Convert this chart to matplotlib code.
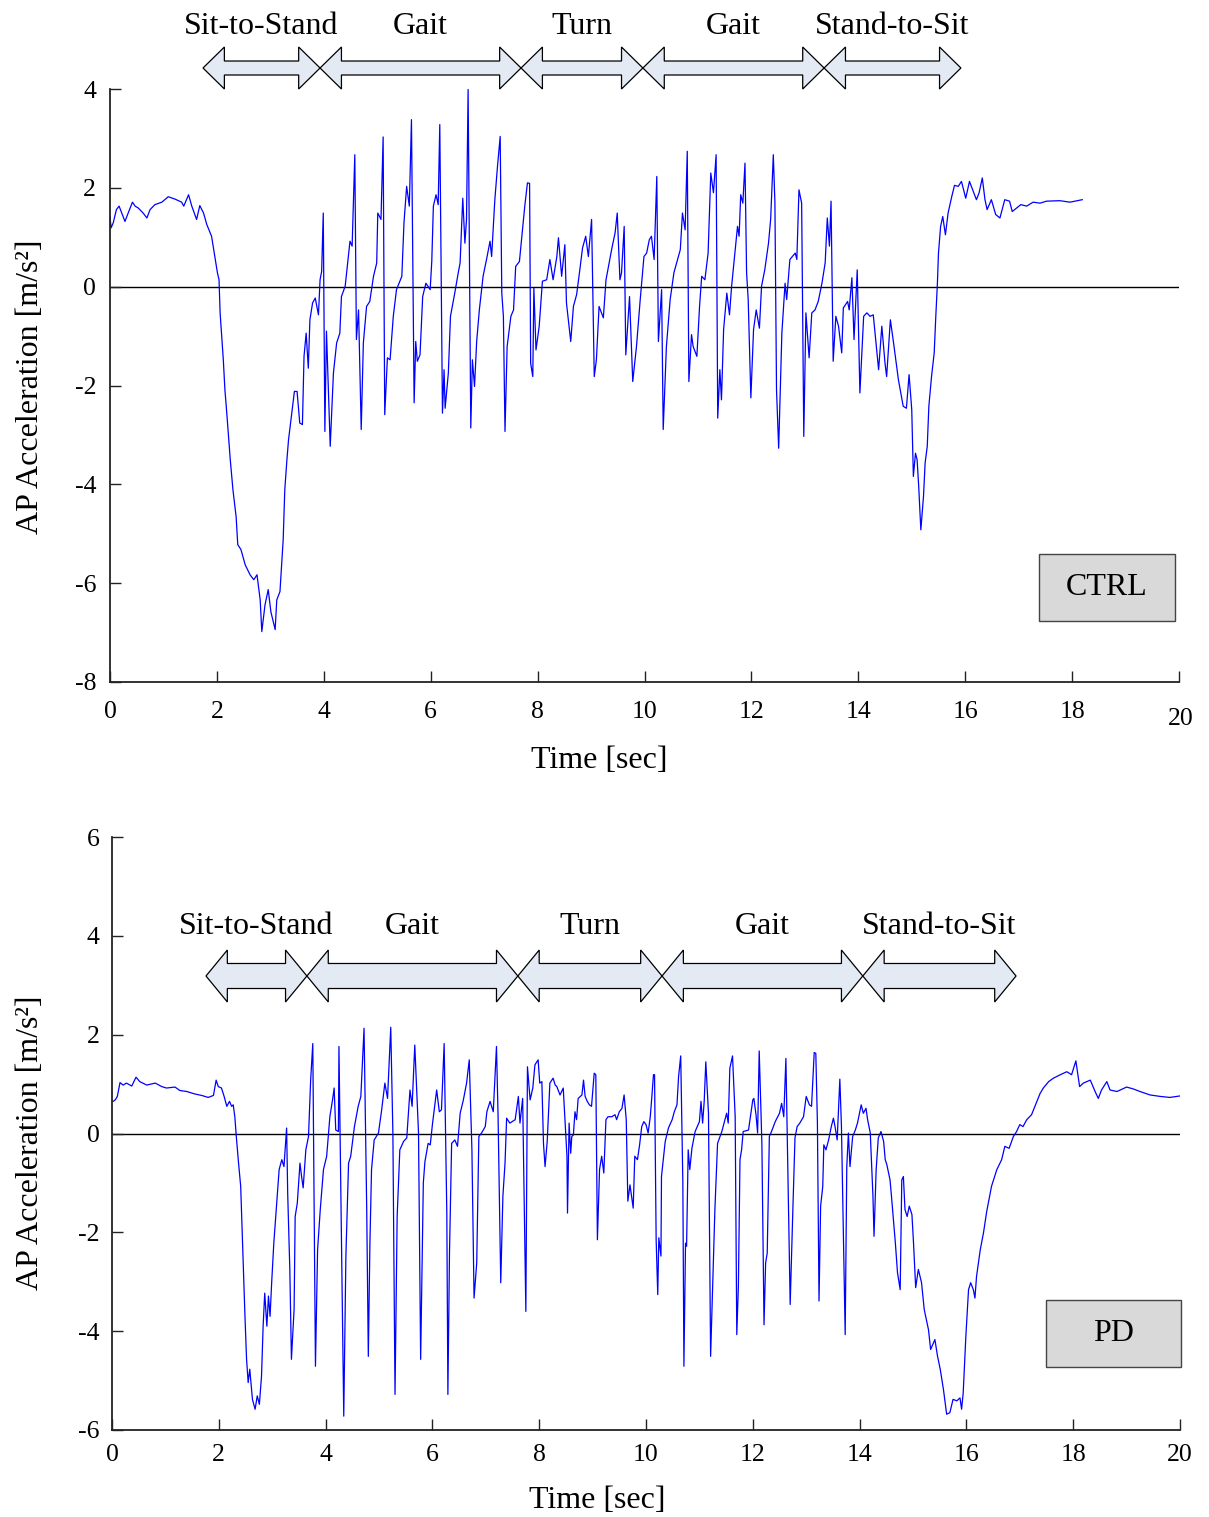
import matplotlib
matplotlib.use("Agg")
import matplotlib.pyplot as plt
from matplotlib.patches import Polygon, Rectangle
from matplotlib.transforms import blended_transform_factory

plt.rcParams['font.family'] = ['Liberation Serif', 'DejaVu Serif']

# ---------------------------------------------------------------------------
# AP acceleration traces (time in s, acceleration in m/s^2)
# ---------------------------------------------------------------------------
ctrl_time = [
    0.00, 0.02, 0.06, 0.12, 0.17, 0.22, 0.28, 0.34, 0.42, 0.47,
    0.53, 0.62, 0.69, 0.75, 0.84, 0.97, 1.09, 1.22, 1.34, 1.38,
    1.47, 1.53, 1.62, 1.68, 1.75, 1.81, 1.90, 1.96, 2.01, 2.04,
    2.06, 2.12, 2.15, 2.18, 2.25, 2.30, 2.36, 2.39, 2.45, 2.53,
    2.62, 2.69, 2.75, 2.81, 2.84, 2.90, 2.96, 3.01, 3.09, 3.12,
    3.18, 3.24, 3.27, 3.31, 3.34, 3.40, 3.45, 3.50, 3.55, 3.60,
    3.63, 3.67, 3.71, 3.74, 3.79, 3.84, 3.90, 3.93, 3.96, 3.99,
    4.02, 4.05, 4.12, 4.18, 4.24, 4.30, 4.33, 4.40, 4.44, 4.49,
    4.53, 4.58, 4.61, 4.65, 4.70, 4.74, 4.80, 4.86, 4.93, 4.99,
    5.01, 5.07, 5.11, 5.14, 5.19, 5.24, 5.30, 5.36, 5.46, 5.50,
    5.55, 5.60, 5.64, 5.69, 5.72, 5.75, 5.80, 5.85, 5.91, 5.99,
    6.02, 6.05, 6.10, 6.14, 6.17, 6.22, 6.25, 6.27, 6.33, 6.37,
    6.45, 6.52, 6.55, 6.60, 6.64, 6.67, 6.70, 6.75, 6.78, 6.82,
    6.86, 6.91, 6.98, 7.05, 7.11, 7.14, 7.20, 7.25, 7.30, 7.33,
    7.36, 7.39, 7.43, 7.50, 7.55, 7.59, 7.66, 7.70, 7.76, 7.81,
    7.85, 7.87, 7.91, 7.93, 7.97, 8.03, 8.09, 8.17, 8.23, 8.29,
    8.36, 8.39, 8.45, 8.51, 8.54, 8.62, 8.67, 8.73, 8.79, 8.84,
    8.90, 8.95, 9.01, 9.06, 9.10, 9.15, 9.23, 9.28, 9.39, 9.45,
    9.49, 9.54, 9.57, 9.62, 9.65, 9.72, 9.78, 9.85, 9.92, 9.99,
    10.04, 10.09, 10.13, 10.18, 10.23, 10.26, 10.32, 10.35, 10.41, 10.48,
    10.55, 10.67, 10.71, 10.76, 10.80, 10.83, 10.88, 10.91, 10.98, 11.03,
    11.07, 11.13, 11.19, 11.24, 11.29, 11.34, 11.37, 11.41, 11.44, 11.48,
    11.54, 11.59, 11.63, 11.69, 11.74, 11.77, 11.80, 11.84, 11.88, 11.91,
    11.94, 11.99, 12.04, 12.09, 12.15, 12.19, 12.25, 12.32, 12.36, 12.41,
    12.44, 12.47, 12.51, 12.57, 12.63, 12.66, 12.72, 12.82, 12.85, 12.89,
    12.94, 12.98, 13.02, 13.08, 13.13, 13.19, 13.25, 13.32, 13.38, 13.42,
    13.46, 13.49, 13.53, 13.58, 13.63, 13.69, 13.72, 13.80, 13.83, 13.88,
    13.92, 13.98, 14.03, 14.10, 14.16, 14.22, 14.28, 14.35, 14.38, 14.44,
    14.50, 14.53, 14.60, 14.66, 14.75, 14.84, 14.90, 14.95, 15.00, 15.03,
    15.07, 15.10, 15.13, 15.17, 15.22, 15.25, 15.29, 15.32, 15.37, 15.42,
    15.45, 15.48, 15.50, 15.54, 15.58, 15.63, 15.68, 15.75, 15.80, 15.87,
    15.93, 16.01, 16.08, 16.15, 16.21, 16.26, 16.32, 16.37, 16.41, 16.49,
    16.57, 16.65, 16.74, 16.83, 16.88, 16.96, 17.04, 17.15, 17.27, 17.40,
    17.52, 17.77, 17.96, 18.19,
]
ctrl_acc = [
    1.42, 1.19, 1.29, 1.56, 1.63, 1.49, 1.32, 1.49, 1.71, 1.63,
    1.59, 1.49, 1.39, 1.56, 1.66, 1.71, 1.82, 1.77, 1.71, 1.63,
    1.86, 1.63, 1.36, 1.64, 1.49, 1.26, 1.02, 0.61, 0.28, 0.14,
    -0.53, -1.48, -2.09, -2.49, -3.50, -4.11, -4.66, -5.22, -5.32, -5.63,
    -5.83, -5.93, -5.83, -6.34, -6.98, -6.44, -6.13, -6.58, -6.94, -6.34,
    -6.17, -5.12, -4.11, -3.50, -3.10, -2.56, -2.12, -2.12, -2.76, -2.79,
    -1.41, -0.94, -1.65, -0.67, -0.33, -0.23, -0.57, 0.14, 0.31, 1.49,
    -2.93, -0.90, -3.23, -1.75, -1.14, -0.94, -0.20, 0.01, 0.41, 0.92,
    0.82, 2.67, -1.07, -0.47, -2.89, -1.14, -0.40, -0.30, 0.21, 0.48,
    1.49, 1.36, 3.03, -2.59, -1.44, -1.48, -0.60, -0.06, 0.21, 1.29,
    2.03, 1.63, 3.38, -2.35, -1.11, -1.51, -1.38, -0.20, 0.07, -0.06,
    0.51, 1.63, 1.86, 1.66, 3.28, -2.56, -1.68, -2.46, -1.75, -0.60,
    -0.13, 0.31, 0.48, 1.79, 0.88, 1.36, 3.99, -2.86, -1.48, -2.02,
    -1.11, -0.47, 0.21, 0.58, 0.92, 0.61, 1.76, 2.44, 3.04, -0.13,
    -0.60, -2.93, -1.21, -0.60, -0.47, 0.41, 0.51, 0.95, 1.63, 2.10,
    2.09, -1.55, -1.82, -0.03, -1.28, -0.80, 0.11, 0.14, 0.55, 0.14,
    0.61, 0.99, 0.21, 0.85, -0.33, -1.11, -0.40, -0.16, 0.34, 0.78,
    1.02, 0.61, 1.36, -1.82, -1.48, -0.40, -0.63, 0.14, 0.78, 1.09,
    1.49, 0.14, 0.28, 1.22, -1.38, -0.20, -1.92, -1.21, -0.26, 0.61,
    0.68, 0.95, 1.02, 0.55, 2.23, -1.11, -0.06, -2.89, -1.21, -0.26,
    0.28, 0.75, 1.49, 1.15, 2.74, -1.92, -0.97, -1.21, -1.41, -0.40,
    0.21, 0.14, 0.68, 2.30, 1.90, 2.67, -2.66, -1.68, -2.29, -0.87,
    -0.13, -0.57, 0.01, 0.68, 1.22, 1.02, 1.86, 1.69, 2.50, 0.28,
    -0.26, -2.25, -0.87, -0.47, -0.84, 0.01, 0.34, 0.88, 1.36, 2.67,
    1.69, -2.09, -3.27, -0.94, 0.07, -0.26, 0.55, 0.68, 0.55, 1.96,
    1.69, -3.03, -0.53, -1.44, -0.53, -0.47, -0.30, 0.07, 0.48, 1.39,
    0.82, 1.73, -1.51, -0.60, -0.80, -1.34, -0.43, -0.30, -0.47, 0.18,
    -1.07, 0.34, -2.15, -0.60, -0.53, -0.60, -0.57, -1.34, -1.68, -0.80,
    -1.55, -1.82, -0.67, -1.14, -1.88, -2.42, -2.46, -1.78, -2.49, -3.84,
    -3.37, -3.50, -4.04, -4.92, -4.24, -3.57, -3.23, -2.42, -1.82, -1.34,
    -0.60, 0.07, 0.68, 1.22, 1.42, 1.05, 1.49, 1.83, 2.05, 2.03,
    2.13, 1.79, 2.13, 1.93, 1.76, 1.90, 2.20, 1.76, 1.56, 1.76,
    1.46, 1.39, 1.76, 1.73, 1.52, 1.59, 1.66, 1.63, 1.71, 1.69,
    1.73, 1.74, 1.71, 1.76,
]

pd_time = [
    0.02, 0.06, 0.10, 0.15, 0.21, 0.27, 0.37, 0.45, 0.52, 0.65,
    0.81, 0.93, 1.02, 1.18, 1.27, 1.40, 1.55, 1.68, 1.80, 1.90,
    1.95, 1.99, 2.05, 2.10, 2.15, 2.20, 2.24, 2.27, 2.30, 2.33,
    2.37, 2.41, 2.46, 2.49, 2.52, 2.55, 2.58, 2.63, 2.68, 2.72,
    2.76, 2.80, 2.83, 2.86, 2.90, 2.93, 2.96, 2.99, 3.03, 3.08,
    3.13, 3.18, 3.22, 3.27, 3.29, 3.33, 3.36, 3.41, 3.43, 3.47,
    3.52, 3.55, 3.58, 3.63, 3.68, 3.72, 3.76, 3.81, 3.85, 3.90,
    3.96, 4.02, 4.08, 4.13, 4.16, 4.19, 4.24, 4.25, 4.30, 4.34,
    4.38, 4.43, 4.47, 4.54, 4.61, 4.66, 4.72, 4.77, 4.80, 4.83,
    4.86, 4.91, 4.99, 5.05, 5.11, 5.16, 5.22, 5.26, 5.30, 5.34,
    5.39, 5.46, 5.52, 5.58, 5.62, 5.67, 5.74, 5.78, 5.83, 5.86,
    5.92, 5.96, 6.00, 6.08, 6.13, 6.17, 6.22, 6.27, 6.29, 6.32,
    6.36, 6.42, 6.47, 6.52, 6.58, 6.64, 6.69, 6.74, 6.78, 6.83,
    6.87, 6.92, 6.99, 7.02, 7.08, 7.14, 7.20, 7.23, 7.28, 7.32,
    7.36, 7.39, 7.45, 7.55, 7.61, 7.64, 7.69, 7.75, 7.78, 7.83,
    7.88, 7.92, 7.98, 8.01, 8.05, 8.08, 8.11, 8.15, 8.20, 8.26,
    8.30, 8.33, 8.39, 8.45, 8.48, 8.52, 8.53, 8.56, 8.59, 8.61,
    8.64, 8.67, 8.70, 8.73, 8.80, 8.83, 8.86, 8.90, 8.94, 8.98,
    9.03, 9.06, 9.09, 9.13, 9.17, 9.21, 9.25, 9.29, 9.36, 9.42,
    9.45, 9.50, 9.55, 9.59, 9.63, 9.66, 9.70, 9.76, 9.79, 9.84,
    9.88, 9.92, 9.96, 10.00, 10.04, 10.08, 10.11, 10.14, 10.16, 10.19,
    10.22, 10.24, 10.28, 10.29, 10.36, 10.42, 10.49, 10.53, 10.58, 10.61,
    10.65, 10.69, 10.71, 10.74, 10.76, 10.79, 10.82, 10.86, 10.92, 11.00,
    11.03, 11.06, 11.09, 11.12, 11.17, 11.21, 11.26, 11.29, 11.34, 11.42,
    11.51, 11.54, 11.57, 11.62, 11.67, 11.70, 11.73, 11.76, 11.79, 11.82,
    11.92, 12.00, 12.02, 12.06, 12.09, 12.12, 12.17, 12.21, 12.24, 12.27,
    12.31, 12.35, 12.42, 12.50, 12.54, 12.58, 12.62, 12.67, 12.70, 12.75,
    12.79, 12.83, 12.88, 12.95, 13.00, 13.06, 13.10, 13.15, 13.18, 13.21,
    13.24, 13.27, 13.31, 13.33, 13.37, 13.42, 13.47, 13.51, 13.54, 13.58,
    13.63, 13.66, 13.73, 13.76, 13.79, 13.82, 13.87, 13.92, 13.96, 14.03,
    14.07, 14.12, 14.15, 14.20, 14.25, 14.27, 14.31, 14.35, 14.40, 14.45,
    14.48, 14.51, 14.57, 14.60, 14.67, 14.71, 14.76, 14.79, 14.82, 14.85,
    14.89, 14.93, 14.98, 15.01, 15.05, 15.10, 15.16, 15.21, 15.29, 15.33,
    15.41, 15.46, 15.51, 15.57, 15.63, 15.69, 15.75, 15.82, 15.88, 15.91,
    15.94, 15.99, 16.04, 16.08, 16.13, 16.16, 16.19, 16.26, 16.32, 16.38,
    16.47, 16.57, 16.66, 16.72, 16.80, 16.88, 16.94, 17.00, 17.06, 17.13,
    17.22, 17.32, 17.38, 17.44, 17.54, 17.63, 17.76, 17.88, 17.97, 18.05,
    18.12, 18.19, 18.32, 18.41, 18.47, 18.53, 18.63, 18.69, 18.82, 19.00,
    19.13, 19.25, 19.44, 19.63, 19.81, 20.00,
]
pd_acc = [
    0.65, 0.68, 0.75, 1.03, 0.98, 1.02, 0.96, 1.14, 1.05, 0.98,
    1.02, 0.95, 0.92, 0.94, 0.87, 0.85, 0.80, 0.77, 0.73, 0.77,
    1.08, 0.95, 0.92, 0.75, 0.55, 0.65, 0.55, 0.58, 0.34, -0.09,
    -0.60, -1.07, -2.75, -3.70, -4.57, -5.04, -4.77, -5.38, -5.58, -5.31,
    -5.48, -4.91, -3.90, -3.23, -3.90, -3.29, -3.70, -3.02, -2.22, -1.47,
    -0.73, -0.53, -0.67, 0.11, -1.21, -2.75, -4.57, -3.56, -1.68, -1.41,
    -0.60, -0.87, -1.10, -0.33, -0.06, 1.08, 1.82, -4.71, -2.35, -1.54,
    -0.73, -0.46, 0.34, 0.68, 0.92, 0.07, 0.04, 1.76, -2.48, -5.72,
    -2.48, -0.60, -0.46, 0.14, 0.55, 0.75, 2.13, -1.54, -4.51, -2.22,
    -0.73, -0.13, 0.01, 0.48, 1.02, 0.71, 2.15, 0.01, -5.28, -1.68,
    -0.33, -0.16, -0.09, 0.88, 0.55, 1.79, 0.01, -4.57, -1.00, -0.57,
    -0.20, -0.23, 0.18, 0.88, 0.44, 0.48, 1.82, -1.61, -5.28, -2.42,
    -0.20, -0.13, -0.26, 0.41, 0.68, 1.02, 1.49, -0.33, -3.33, -2.62,
    -0.06, 0.01, 0.14, 0.44, 0.65, 0.44, 1.76, 0.34, -3.02, -1.27,
    -0.60, 0.31, 0.21, 0.28, 0.75, 0.21, 0.71, -3.60, 1.35, 0.68,
    0.92, 1.39, 1.49, 1.02, 1.05, -0.20, -0.67, -0.16, 1.02, 1.12,
    0.98, 0.95, 0.78, 0.92, 0.34, -0.46, -1.61, 0.21, -0.40, -0.06,
    -0.03, 0.44, 0.28, 0.71, 0.78, 1.08, 0.75, 0.65, 0.58, 0.55,
    1.22, 1.19, -2.15, -0.73, -0.46, -0.80, 0.28, 0.34, 0.34, 0.38,
    0.28, 0.44, 0.51, 0.78, 0.28, -1.37, -1.04, -1.51, -0.46, -0.53,
    -0.23, 0.14, 0.24, 0.18, 0.01, 0.34, 0.75, 1.19, 1.19, -2.15,
    -3.26, -2.11, -2.48, -0.87, -0.16, 0.11, 0.28, 0.44, 0.58, 1.15,
    1.57, -1.00, -4.71, -2.22, -2.28, -0.33, -0.73, -0.30, 0.04, 0.24,
    0.65, 0.21, 0.65, 1.45, 0.41, -4.51, -2.69, -1.54, -0.20, 0.04,
    0.41, 0.21, 1.32, 1.57, 0.34, -4.07, -3.09, -0.53, -0.33, 0.04,
    0.07, 0.68, 0.71, 0.38, 0.01, 1.67, -0.20, -3.87, -2.62, -2.42,
    -0.06, 0.04, 0.24, 0.41, 0.61, 0.34, 1.52, -1.54, -3.46, -1.54,
    -0.09, 0.14, 0.21, 0.34, 0.75, 0.58, 0.55, 1.64, 1.62, 0.21,
    -3.39, -1.47, -1.07, -0.23, -0.33, -0.13, 0.14, 0.31, 0.14, -0.13,
    1.10, 0.14, -4.07, -0.67, 0.01, -0.67, -0.06, 0.07, 0.21, 0.58,
    0.41, 0.51, 0.28, 0.01, -1.27, -2.08, -0.73, -0.09, 0.04, -0.16,
    -0.53, -0.63, -0.94, -1.31, -2.22, -2.82, -3.16, -0.94, -0.87, -1.54,
    -1.68, -1.47, -1.64, -2.22, -3.12, -2.75, -3.02, -3.56, -3.97, -4.37,
    -4.17, -4.51, -4.77, -5.18, -5.68, -5.65, -5.38, -5.41, -5.35, -5.58,
    -5.25, -4.10, -3.16, -3.02, -3.16, -3.33, -2.89, -2.35, -2.01, -1.58,
    -1.07, -0.73, -0.53, -0.26, -0.30, -0.06, 0.04, 0.18, 0.14, 0.28,
    0.38, 0.65, 0.81, 0.92, 1.05, 1.12, 1.19, 1.25, 1.19, 1.47,
    0.95, 1.02, 1.08, 0.85, 0.71, 0.88, 1.05, 0.88, 0.85, 0.94,
    0.90, 0.85, 0.78, 0.75, 0.73, 0.76,
]

# Task phases and their boundaries (s)
phase_names = ["Sit-to-Stand", "Gait", "Turn", "Gait", "Stand-to-Sit"]
ctrl_phase_edges = [1.74, 3.93, 7.69, 9.97, 13.36, 15.92]
pd_phase_edges = [1.76, 3.65, 7.60, 10.30, 14.06, 16.93]

x_ticks = [0, 2, 4, 6, 8, 10, 12, 14, 16, 18, 20]
ctrl_yticks = [-8, -6, -4, -2, 0, 2, 4]
pd_yticks = [-6, -4, -2, 0, 2, 4, 6]

W, H = 1209, 1517
fig = plt.figure(figsize=(W / 100, H / 100), dpi=100)
ax1 = fig.add_axes([110 / W, 1 - 682 / H, (1179 - 110) / W, (682 - 89) / H])
ax2 = fig.add_axes([112 / W, 1 - 1430 / H, (1180 - 112) / W, (1430 - 837) / H])

TICK_FS = 18.5
LABEL_FS = 23
SIGNAL = "#0000ff"
ARROW_FILL = "#e3eaf4"


def style_axes(ax, yticks, xpad, ypad):
    for side in ("top", "right"):
        ax.spines[side].set_visible(False)
    for side in ("left", "bottom"):
        ax.spines[side].set_linewidth(1.3)
        ax.spines[side].set_color("#222222")
    ax.set_xlim(0, 20)
    ax.set_ylim(yticks[0], yticks[-1])
    ax.set_xticks(x_ticks)
    ax.set_yticks(yticks)
    ax.set_yticklabels([str(v) for v in yticks])
    ax.tick_params(direction="in", length=8, width=1.0, labelsize=TICK_FS,
                   color="#222222")
    ax.tick_params(axis="x", pad=xpad)
    ax.tick_params(axis="y", pad=ypad)


def phase_arrows(ax, edges, yc, hh, sh, head, label_y):
    trans = blended_transform_factory(ax.transData, ax.transAxes)
    for name, x0, x1 in zip(phase_names, edges[:-1], edges[1:]):
        verts = [
            (x0, yc), (x0 + head, yc + hh), (x0 + head, yc + sh),
            (x1 - head, yc + sh), (x1 - head, yc + hh), (x1, yc),
            (x1 - head, yc - hh), (x1 - head, yc - sh),
            (x0 + head, yc - sh), (x0 + head, yc - hh),
        ]
        ax.add_patch(Polygon(verts, closed=True, facecolor=ARROW_FILL,
                             edgecolor="black", linewidth=0.9,
                             transform=trans, clip_on=False, zorder=5))
        ax.text((x0 + x1) / 2, label_y, name, transform=trans, ha="center",
                va="center", fontsize=LABEL_FS, clip_on=False)


def group_box(ax, x0, y0, x1, y1, label):
    ax.add_patch(Rectangle((x0, y0), x1 - x0, y1 - y0, transform=ax.transAxes,
                           facecolor="#d9d9d9", edgecolor="#444444",
                           linewidth=1.0, clip_on=False, zorder=6))
    ax.text((x0 + x1) / 2, (y0 + y1) / 2, label, transform=ax.transAxes,
            ha="center", va="center", fontsize=LABEL_FS, zorder=7)


# --- Control subject -------------------------------------------------------
style_axes(ax1, ctrl_yticks, xpad=14, ypad=10)
ax1.set_xticklabels([str(v) for v in x_ticks[:-1]] + [""])
ax1.axhline(0, color="black", linewidth=1.0, zorder=1)
ax1.plot(ctrl_time, ctrl_acc, color=SIGNAL, linewidth=0.9, zorder=2)
phase_arrows(ax1, ctrl_phase_edges, yc=1.0354, hh=0.0354, sh=0.0118,
             head=0.40, label_y=1.106)
group_box(ax1, 0.869, 0.103, 0.996, 0.216, "CTRL")
fig.text(1181 / W, 1 - 719 / H, "20", ha="center", va="center",
         fontsize=TICK_FS)
fig.text(599 / W, 1 - 760 / H, "Time [sec]", ha="center", va="center",
         fontsize=LABEL_FS)
fig.text(31 / W, 1 - 387 / H, "AP Acceleration [m/s²]", ha="center",
         va="center", rotation=90, fontsize=LABEL_FS)

# --- Parkinson's disease subject -------------------------------------------
style_axes(ax2, pd_yticks, xpad=10, ypad=9)
ax2.set_xticklabels([str(v) for v in x_ticks])
ax2.axhline(0, color="black", linewidth=1.0, zorder=1)
ax2.plot(pd_time, pd_acc, color=SIGNAL, linewidth=0.9, zorder=2)
phase_arrows(ax2, pd_phase_edges, yc=0.7656, hh=0.0438, sh=0.0211,
             head=0.40, label_y=0.849)
group_box(ax2, 0.8745, 0.106, 1.001, 0.219, "PD")
fig.text(597 / W, 1 - 1500 / H, "Time [sec]", ha="center", va="center",
         fontsize=LABEL_FS)
fig.text(31 / W, 1 - 1143 / H, "AP Acceleration [m/s²]", ha="center",
         va="center", rotation=90, fontsize=LABEL_FS)

fig.savefig("out.png", dpi=100)
